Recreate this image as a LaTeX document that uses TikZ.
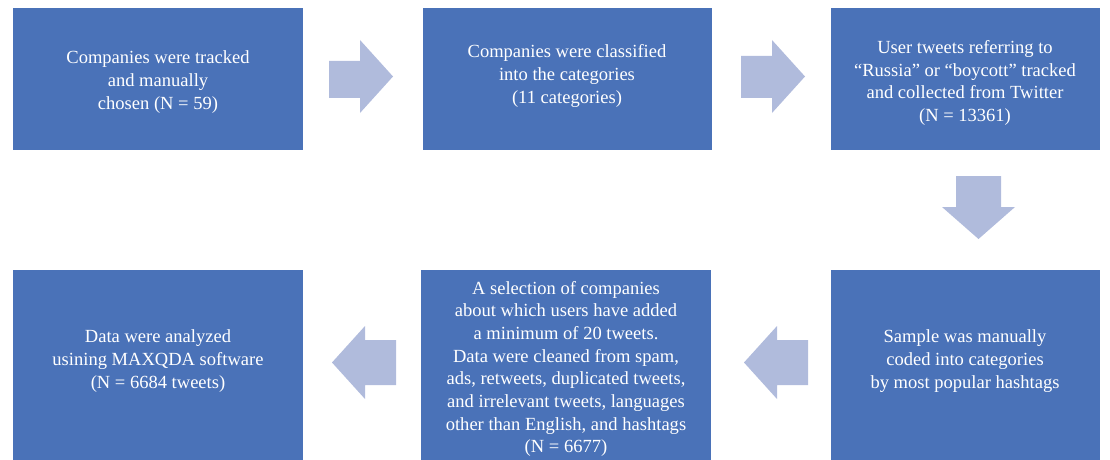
\documentclass[tikz,border=0pt]{standalone}
\usepackage{fontspec}
\setmainfont{Liberation Serif}
\definecolor{boxblue}{RGB}{74,114,184}
\definecolor{arrowblue}{RGB}{176,187,220}
\begin{document}
\begin{tikzpicture}[x=0.75pt,y=-0.75pt,
  stepbox/.style={fill=boxblue,draw=none,text=white,align=center,
    font=\fontsize{13.9}{17}\selectfont,inner sep=0pt},
  blockarrow/.style={fill=arrowblue,draw=none}]
\useasboundingbox (0,0) rectangle (1110,460);
% boxes
\fill[boxblue] (13,8) rectangle (303,150);
\node[stepbox] (t1) at (158,82) {Companies were tracked\\and manually\\chosen (N = 59)};
\fill[boxblue] (423,8) rectangle (712,150);
\node[stepbox] (t2) at (567,76) {Companies were classified\\into the categories\\(11 categories)};
\fill[boxblue] (831,8) rectangle (1100,150);
\node[stepbox] (t3) at (965,83) {User tweets referring to\\\char"201C Russia\char"201D{} or \char"201C boycott\char"201D{} tracked\\and collected from Twitter\\(N = 13361)};
\fill[boxblue] (831,270) rectangle (1100,460);
\node[stepbox] (t6) at (965,361) {Sample was manually\\coded into categories\\by most popular hashtags};
\fill[boxblue] (421,270) rectangle (711,460);
\node[stepbox] (t5) at (566,369) {A selection of companies\\about which users have added\\a minimum of 20 tweets.\\Data were cleaned from spam,\\ads, retweets, duplicated tweets,\\and irrelevant tweets, languages\\other than English, and hashtags\\(N = 6677)};
\fill[boxblue] (13,270) rectangle (303,460);
\node[stepbox] (t4) at (158,361) {Data were analyzed\\usining MAXQDA software\\(N = 6684 tweets)};
% block arrows
\fill[blockarrow] (329,61) -- (360,61) -- (360,40) -- (393,76.5) -- (360,113) -- (360,98) -- (329,98) -- cycle;
\fill[blockarrow] (741,56) -- (772,56) -- (772,40) -- (805,76.5) -- (772,113) -- (772,98) -- (741,98) -- cycle;
\fill[blockarrow] (956,176) -- (1001,176) -- (1001,207) -- (1015,207) -- (978.5,239) -- (942,207) -- (956,207) -- cycle;
\fill[blockarrow] (808,340) -- (777,340) -- (777,326) -- (744,362.5) -- (777,399) -- (777,385) -- (808,385) -- cycle;
\fill[blockarrow] (396,340) -- (365,340) -- (365,326) -- (332,362.5) -- (365,399) -- (365,385) -- (396,385) -- cycle;
\end{tikzpicture}
\end{document}
